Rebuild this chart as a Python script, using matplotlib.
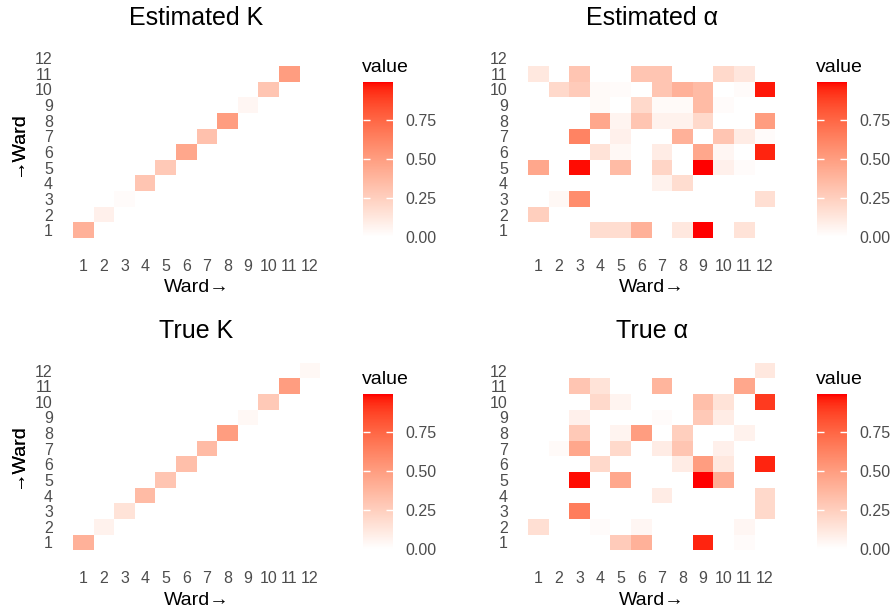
import numpy as np
import matplotlib
matplotlib.use("Agg")
import matplotlib.pyplot as plt
from matplotlib.colors import ListedColormap, Normalize

plt.rcParams["font.family"] = ["Liberation Sans", "DejaVu Sans"]

# ---------------------------------------------------------------- data
wards = list(range(1, 13))
tick_labels = [str(w) for w in wards]

# diagonal of K (ward i -> ward i)
est_k_diag = [0.40, 0.08, 0.02, 0.30, 0.28, 0.45, 0.32, 0.50, 0.05, 0.30, 0.50, 0.00]
true_k_diag = [0.40, 0.07, 0.15, 0.35, 0.30, 0.33, 0.35, 0.50, 0.04, 0.28, 0.50, 0.04]

# alpha matrices: one list per destination ward (y = 1 .. 12), columns = ward 1 .. 12
est_alpha = [
    [0.00, 0.00, 0.00, 0.18, 0.18, 0.40, 0.00, 0.12, 0.99, 0.00, 0.15, 0.00],
    [0.25, 0.00, 0.00, 0.00, 0.00, 0.00, 0.00, 0.00, 0.00, 0.00, 0.00, 0.00],
    [0.00, 0.04, 0.58, 0.00, 0.00, 0.00, 0.00, 0.00, 0.00, 0.00, 0.00, 0.17],
    [0.00, 0.00, 0.00, 0.00, 0.00, 0.00, 0.07, 0.18, 0.00, 0.00, 0.00, 0.00],
    [0.45, 0.00, 0.98, 0.00, 0.35, 0.00, 0.22, 0.00, 0.99, 0.08, 0.02, 0.00],
    [0.00, 0.00, 0.00, 0.15, 0.04, 0.00, 0.10, 0.00, 0.45, 0.05, 0.00, 0.95],
    [0.00, 0.00, 0.62, 0.00, 0.08, 0.00, 0.00, 0.40, 0.00, 0.30, 0.10, 0.02],
    [0.00, 0.00, 0.00, 0.45, 0.06, 0.30, 0.07, 0.07, 0.20, 0.00, 0.00, 0.50],
    [0.00, 0.00, 0.00, 0.03, 0.00, 0.20, 0.03, 0.03, 0.35, 0.02, 0.00, 0.00],
    [0.00, 0.20, 0.27, 0.03, 0.02, 0.00, 0.30, 0.40, 0.35, 0.00, 0.02, 0.97],
    [0.12, 0.00, 0.30, 0.00, 0.00, 0.30, 0.30, 0.00, 0.00, 0.20, 0.13, 0.00],
    [0.00, 0.00, 0.00, 0.00, 0.00, 0.00, 0.00, 0.00, 0.00, 0.00, 0.00, 0.00],
]
true_alpha = [
    [0.00, 0.00, 0.00, 0.00, 0.27, 0.40, 0.00, 0.00, 0.95, 0.00, 0.02, 0.00],
    [0.17, 0.00, 0.00, 0.02, 0.00, 0.05, 0.00, 0.00, 0.00, 0.00, 0.05, 0.00],
    [0.00, 0.00, 0.65, 0.00, 0.00, 0.00, 0.00, 0.00, 0.00, 0.00, 0.00, 0.20],
    [0.00, 0.00, 0.00, 0.00, 0.00, 0.00, 0.10, 0.00, 0.00, 0.00, 0.00, 0.20],
    [0.00, 0.00, 0.98, 0.00, 0.45, 0.00, 0.00, 0.00, 0.99, 0.42, 0.00, 0.00],
    [0.00, 0.00, 0.00, 0.20, 0.00, 0.00, 0.00, 0.10, 0.50, 0.12, 0.00, 0.95],
    [0.00, 0.03, 0.45, 0.00, 0.20, 0.00, 0.10, 0.30, 0.00, 0.08, 0.00, 0.00],
    [0.00, 0.00, 0.28, 0.00, 0.06, 0.50, 0.00, 0.25, 0.00, 0.00, 0.07, 0.00],
    [0.00, 0.00, 0.08, 0.00, 0.00, 0.00, 0.02, 0.00, 0.28, 0.10, 0.00, 0.00],
    [0.00, 0.00, 0.00, 0.20, 0.06, 0.00, 0.00, 0.00, 0.33, 0.15, 0.00, 0.90],
    [0.00, 0.00, 0.30, 0.15, 0.00, 0.00, 0.38, 0.00, 0.00, 0.00, 0.45, 0.00],
    [0.00, 0.00, 0.00, 0.00, 0.00, 0.00, 0.00, 0.00, 0.00, 0.00, 0.00, 0.12],
]

cbar_ticks = [0.0, 0.25, 0.5, 0.75]
cbar_tick_labels = ["0.00", "0.25", "0.50", "0.75"]
vmax = 0.99


# ------------------------------------------------ white -> red in Lab space
def lab_to_rgb(lab):
    L, a, b = lab[:, 0], lab[:, 1], lab[:, 2]
    fy = (L + 16) / 116
    fx = fy + a / 500
    fz = fy - b / 200

    def finv(t):
        t3 = t ** 3
        return np.where(t3 > 0.008856, t3, (t - 16 / 116) / 7.787)

    X = 0.95047 * finv(fx)
    Y = 1.00000 * finv(fy)
    Z = 1.08883 * finv(fz)
    r = 3.2406 * X - 1.5372 * Y - 0.4986 * Z
    g = -0.9689 * X + 1.8758 * Y + 0.0415 * Z
    bl = 0.0557 * X - 0.2040 * Y + 1.0570 * Z
    rgb = np.stack([r, g, bl], axis=1)
    rgb = np.where(rgb <= 0.0031308, 12.92 * rgb, 1.055 * np.clip(rgb, 0, None) ** (1 / 2.4) - 0.055)
    return np.clip(rgb, 0, 1)


t = np.linspace(0, 1, 256)[:, None]
lab_white = np.array([100.0, 0.0, 0.0])
lab_red = np.array([53.24, 80.09, 67.20])
cmap = ListedColormap(lab_to_rgb(lab_white * (1 - t) + lab_red * t))
norm = Normalize(vmin=0, vmax=vmax)

# ------------------------------------------------------------- figure
W, H = 894, 616
fig = plt.figure(figsize=(W / 100, H / 100), dpi=100)

TICK_COLOR = "#4D4D4D"
CW, CH = 20.6, 15.63  # cell size in pixels
PW, PH = 12 * CW, 12 * CH


def px_axes(x0, ytop, w, h):
    return fig.add_axes([x0 / W, 1 - (ytop + h) / H, w / W, h / H])


def diag_matrix(diag):
    m = np.zeros((12, 12))
    for i, v in enumerate(diag):
        m[i, i] = v
    return m


def heat_panel(x0, ytop, values, title, cb_x0):
    ax = px_axes(x0, ytop, PW, PH)
    edges = np.arange(0.5, 13.5, 1.0)
    ax.pcolormesh(edges, edges, np.asarray(values), cmap=cmap, norm=norm,
                  shading="flat", edgecolors="none")
    ax.set_xlim(0.5, 12.5)
    ax.set_ylim(0.5, 12.5)
    ax.set_xticks(wards)
    ax.set_yticks(wards)
    ax.set_xticklabels(tick_labels)
    ax.set_yticklabels(tick_labels)
    ax.tick_params(length=0, labelsize=11.5, colors=TICK_COLOR)
    ax.tick_params(axis="x", pad=15)
    ax.tick_params(axis="y", pad=14.5)
    for s in ax.spines.values():
        s.set_visible(False)

    # axis titles, placed by pixel offsets from the tile grid
    ax.set_xlabel("Ward\u2192", fontsize=14, color="black")
    ax.xaxis.label.set_va("center")
    ax.xaxis.set_label_coords(0.5, -50 / PH)
    ax.set_ylabel("\u2192Ward", fontsize=14, color="black")
    ax.yaxis.label.set_va("center")
    ax.yaxis.set_label_coords(-(x0 - 18) / PW, 0.5)

    ax.set_title(title, fontsize=18, color="black", pad=0,
                 y=1 + 32 / PH, va="center")

    # colour bar
    cb_top = ytop + 31.6
    cax = px_axes(cb_x0, cb_top, 30, 155)
    sm = plt.cm.ScalarMappable(norm=norm, cmap=cmap)
    cb = fig.colorbar(sm, cax=cax)
    cb.outline.set_visible(False)
    cb.set_ticks(cbar_ticks)
    cb.set_ticklabels(cbar_tick_labels)
    cax.tick_params(direction="in", length=5, width=1, color="white",
                    left=True, right=True, labelsize=11.5,
                    labelcolor=TICK_COLOR, pad=9)
    fig.text((cb_x0 - 1) / W, 1 - (cb_top - 10) / H, "value", fontsize=14,
             ha="left", va="baseline", color="black")
    return ax


heat_panel(73, 50.4, diag_matrix(est_k_diag), "Estimated K", 363)
heat_panel(528, 50.4, est_alpha, "Estimated \u03b1", 817)
heat_panel(73, 362.7, diag_matrix(true_k_diag), "True K", 363)
heat_panel(528, 362.7, true_alpha, "True \u03b1", 817)

fig.savefig("out.png", dpi=100)
